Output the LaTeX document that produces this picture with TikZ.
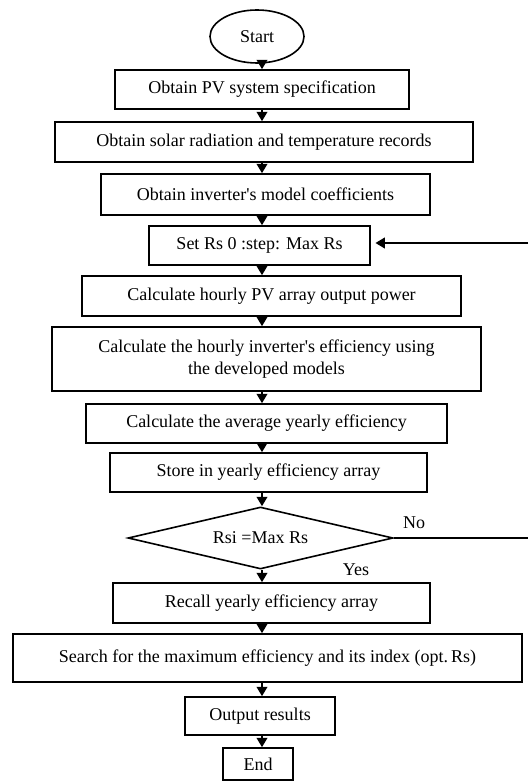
\documentclass[tikz,border=0pt]{standalone}
\usepackage{fontspec}
\setmainfont{Liberation Serif}
\usetikzlibrary{shapes.geometric,arrows.meta}

\tikzset{
  block/.style={draw, line width=1.2pt, rectangle, align=center, inner sep=2pt},
  terminal/.style={draw, line width=1.2pt, ellipse, inner sep=0pt},
  decision/.style={draw, line width=1.2pt, diamond, aspect=4.3, inner sep=0pt},
  arr/.style={line width=1.2pt, -{Triangle[width=8pt,length=7pt]}}
}

\begin{document}
\begin{tikzpicture}[x=0.75pt, y=-0.75pt, font=\fontsize{13.5}{16}\selectfont]
                \useasboundingbox (0,0) rectangle (528,781);
                \coordinate (spine) at (262,0);

                % Start
                \node[terminal, minimum width=70.5pt, minimum height=39.75pt] (start) at (257,36.5) {Start};

                % Preparation steps
                \node[block, minimum width=220.5pt, minimum height=29.25pt] (spec) at (262,89.5) {Obtain PV system specification};
                \node[block, minimum width=313.5pt, minimum height=30pt] (records) at (264,142) {Obtain solar radiation and temperature records};
                \node[block, minimum width=246.75pt, minimum height=30.75pt] (coeffs) at (265.5,194.5) {Obtain inverter\textquotesingle s model coefficients};

                % Loop body
                \node[block, minimum width=165.75pt, minimum height=29.25pt] (setrs) at (259.5,245.5) {Set Rs 0 :step: Max Rs};
                \node[block, minimum width=284.25pt, minimum height=30pt] (pvpower) at (271.5,296) {Calculate hourly PV array output power};
                \node[block, minimum width=321.75pt, minimum height=48pt] (inveff) at (266.5,359) {Calculate the hourly inverter\textquotesingle s efficiency using\\the developed models};
                \node[block, minimum width=270.75pt, minimum height=29.25pt] (avgeff) at (266.5,423.5) {Calculate the average yearly efficiency};
                \node[block, minimum width=237.75pt, minimum height=29.25pt] (store) at (268.5,472.5) {Store in yearly efficiency array};

                % Decision
                \node[decision, minimum width=198.75pt, minimum height=46.5pt] (check) at (260.5,538) {Rsi =Max Rs};
                \node (nolabel) at (414,523) {No};
                \node (yeslabel) at (356,570) {Yes};

                % Final steps
                \node[block, minimum width=237.75pt, minimum height=30pt] (recall) at (271.5,603) {Recall yearly efficiency array};
                \node[block, minimum width=381.75pt, minimum height=36pt] (search) at (267.5,658) {Search for the maximum efficiency and its index (opt.\,Rs)};
                \node[block, minimum width=112.5pt, minimum height=28.5pt] (output) at (260,716) {Output results};
                \node[block, minimum width=52.5pt, minimum height=24pt] (finish) at (258,764) {End};

                % Draw the main flow
                \foreach \a/\b in {start/spec, spec/records, records/coeffs, coeffs/setrs, setrs/pvpower,
                    pvpower/inveff, inveff/avgeff, avgeff/store, store/check, check/recall,
                    recall/search, search/output, output/finish}
                    \draw[arr] (\a.south -| spine) -- (\b.north -| spine);

                % Draw the feedback loop
                \coordinate (noend) at (528,538);
                \coordinate (loopin) at (528,243);
                \draw[line width=1.2pt] (check.east) -- (noend);
                \draw[arr, shorten >=3.5pt] (loopin) -- (loopin -| setrs.east);
            \end{tikzpicture}
\end{document}
